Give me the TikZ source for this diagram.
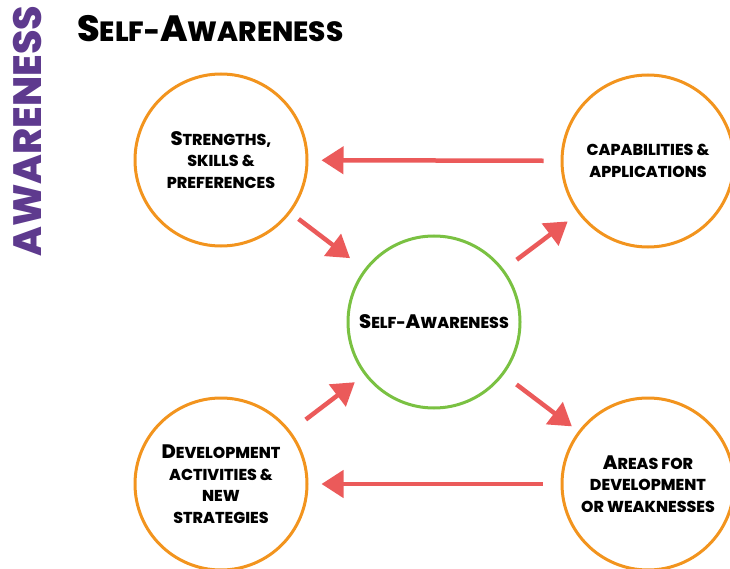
\documentclass[tikz,border=0pt]{standalone}
\usepackage{fontspec}
\setmainfont{Poppins}[BoldFont={Poppins ExtraBold}]
\usetikzlibrary{arrows.meta}
\definecolor{ringor}{HTML}{F2941E}
\definecolor{ringgr}{HTML}{7AC142}
\definecolor{arrred}{HTML}{EB5A5A}
\definecolor{awpurple}{HTML}{5E3A8E}
\newcommand\Bg[1]{{\fontsize{19.5}{21.5}\selectfont #1}}
\newcommand\Tg[1]{{\fontsize{36.5}{38}\selectfont #1}}
\tikzset{
  ring/.style={circle, draw=ringor, line width=3pt, minimum size=172pt, inner sep=0pt, align=center,
    font=\fontsize{15.8}{21.5}\selectfont\bfseries},
  ringc/.style={ring, draw=ringgr},
  arr/.style={draw=arrred, line width=4.5pt, -{Triangle[length=22pt,width=27pt]}},
}
\begin{document}
\begin{tikzpicture}[x=1pt,y=-1pt]
\useasboundingbox (0,0) rectangle (730,569);
\node[text=awpurple, font=\fontsize{39.5}{40}\selectfont\bfseries, rotate=90, anchor=center] (aw) at (27,131) {AWARENESS};
\node[font=\fontsize{27.8}{32}\selectfont\bfseries, anchor=west, inner sep=0pt] (title) at (77,29) {\Tg{S}ELF-\Tg{A}WARENESS};
\node[ring] (tl) at (221,160) {\Bg{S}TRENGTHS,\\SKILLS \&\\PREFERENCES};
\node[ring] (tr) at (648,161) {CAPABILITIES \&\\APPLICATIONS};
\node[ringc] (c) at (434,322) {\Bg{S}ELF-\Bg{A}WARENESS};
\node[ring] (bl) at (221,484) {\Bg{D}EVELOPMENT\\ACTIVITIES \&\\NEW\\STRATEGIES};
\node[ring] (br) at (648,484) {\Bg{A}REAS FOR\\DEVELOPMENT\\OR WEAKNESSES};
\draw[arr, shorten <=17pt, shorten >=13pt] (tr) -- (tl);
\draw[arr, shorten <=18pt, shorten >=13pt] (br) -- (bl);
\draw[arr, shorten <=10pt, shorten >=18pt] (tl) -- (c);
\draw[arr, shorten <=16pt, shorten >=13pt] (c) -- (tr);
\draw[arr, shorten <=19pt, shorten >=12pt] (bl) -- (c);
\draw[arr, shorten <=16pt, shorten >=8pt] (c) -- (br);
\end{tikzpicture}
\end{document}
